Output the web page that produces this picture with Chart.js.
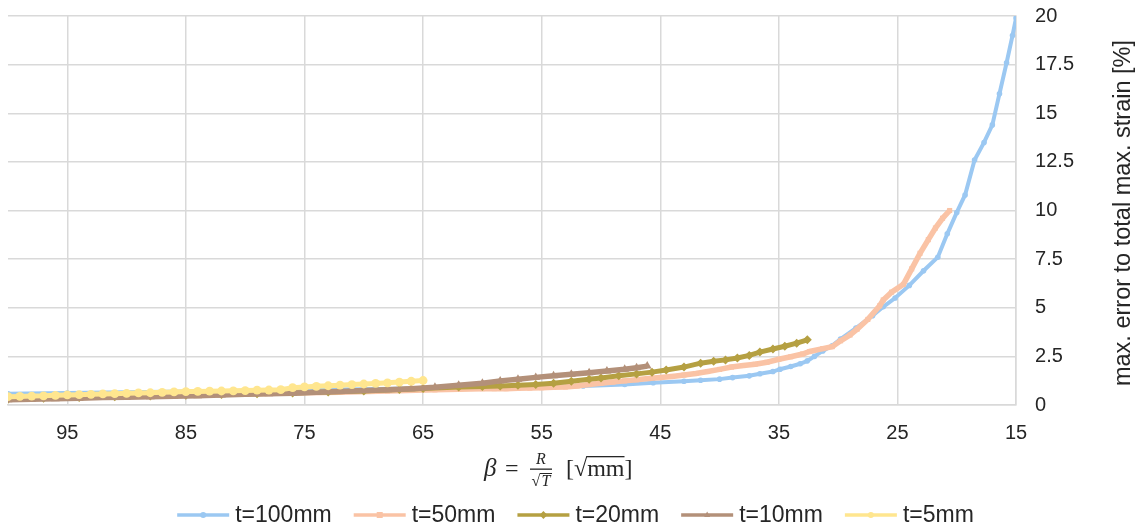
<!DOCTYPE html>
<html>
<head>
<meta charset="utf-8">
<script src="https://cdn.jsdelivr.net/npm/chart.js@4/dist/chart.umd.min.js"></script>
<style>
    html, body { margin: 0; padding: 0; background: #ffffff; }
</style>
</head>
<body>
<canvas id="strainChart" width="1143" height="527"></canvas>
<script>
// x axis tick labels (beta, axis runs right to left)
const xTicks = [95, 85, 75, 65, 55, 45, 35, 25, 15];

const seriesLabels = ["t=100mm", "t=50mm", "t=20mm", "t=10mm", "t=5mm"];
const seriesColors = ["#9BC8F2", "#FAC3A5", "#B5A042", "#B39079", "#FFE68F"];

// t=100mm
const beta100 = [100, 95, 90, 85, 80, 75, 70, 65, 60, 55, 51.5, 48, 45.6, 43, 41.6, 40, 38.9, 37.5, 36.6, 35.5, 34.9, 34, 33.2, 32.6, 32, 31.3, 30.5, 29.8, 28.5, 27.1, 26.2, 25.2, 24, 22.8, 21.6, 20.8, 20, 19.3, 18.5, 17.7, 17, 16.4, 15.8, 15.3, 15];
const err100 = [0.58, 0.62, 0.65, 0.7, 0.73, 0.78, 0.81, 0.86, 0.9, 0.95, 0.98, 1.06, 1.15, 1.22, 1.27, 1.33, 1.41, 1.5, 1.61, 1.72, 1.84, 1.98, 2.12, 2.27, 2.5, 2.78, 3.05, 3.39, 3.95, 4.59, 5.05, 5.5, 6.15, 6.9, 7.6, 8.8, 9.9, 10.8, 12.6, 13.5, 14.4, 16.0, 17.6, 19.0, 19.9];

// t=50mm
const beta50 = [100, 96, 92, 88, 84, 80, 76, 72, 68, 64, 60, 59, 58, 57, 56, 55, 54, 53, 52, 51, 50, 49, 48, 47, 46, 45, 44, 43, 42, 41, 40, 39, 38, 37, 36, 35, 34, 33, 32.4, 31.3, 30.5, 29.8, 29, 28.4, 27.5, 26.5, 26.2, 25.5, 24.5, 23.8, 23.1, 22.4, 21.8, 21.2, 20.6];
const err50 = [0.35, 0.4, 0.44, 0.5, 0.54, 0.58, 0.62, 0.66, 0.72, 0.78, 0.84, 0.84, 0.84, 0.86, 0.87, 0.89, 0.91, 0.93, 0.98, 1.05, 1.12, 1.18, 1.24, 1.3, 1.36, 1.41, 1.47, 1.54, 1.62, 1.72, 1.83, 1.95, 2.03, 2.1, 2.2, 2.35, 2.48, 2.62, 2.75, 2.9, 3.0, 3.3, 3.6, 3.9, 4.4, 5.1, 5.4, 5.8, 6.2, 7.0, 7.8, 8.5, 9.1, 9.6, 10.0];

// t=20mm
const beta20 = [100, 97, 94, 91, 88, 85, 82, 79, 76, 73, 70, 67, 65, 62, 60, 58.5, 57, 55.5, 54, 52.5, 51, 50, 48.5, 47, 45.7, 44.5, 43, 41.6, 40.5, 39.5, 38.5, 37.5, 36.6, 35.5, 34.5, 33.5, 32.6];
const err20 = [0.3, 0.35, 0.38, 0.42, 0.46, 0.5, 0.54, 0.58, 0.62, 0.67, 0.72, 0.8, 0.85, 0.92, 0.95, 0.98, 1.02, 1.06, 1.12, 1.22, 1.32, 1.39, 1.5, 1.6, 1.69, 1.8, 1.95, 2.15, 2.25, 2.32, 2.42, 2.55, 2.72, 2.88, 3.02, 3.18, 3.35];

// t=10mm
const beta10 = [100, 98, 96, 94, 92, 90, 88, 86, 84, 82, 80, 78, 76, 74, 72, 70, 68, 66, 64, 62, 60, 58.5, 57, 55.5, 54, 52.5, 51, 49.5, 48, 47, 46.1];
const err10 = [0.27, 0.3, 0.32, 0.35, 0.38, 0.4, 0.42, 0.45, 0.48, 0.51, 0.55, 0.58, 0.61, 0.66, 0.7, 0.75, 0.79, 0.84, 0.91, 1.02, 1.12, 1.24, 1.32, 1.42, 1.5, 1.58, 1.66, 1.75, 1.84, 1.92, 2.0];

// t=5mm
const beta5 = [100, 99, 98, 97, 96, 95, 94, 93, 92, 91, 90, 89, 88, 87, 86, 85, 84, 83, 82, 81, 80, 79, 78, 77, 76, 75, 74, 73, 72, 71, 70, 69, 68, 67, 66, 65];
const err5 = [0.43, 0.44, 0.46, 0.47, 0.5, 0.52, 0.53, 0.55, 0.57, 0.58, 0.6, 0.62, 0.63, 0.65, 0.67, 0.69, 0.7, 0.71, 0.72, 0.73, 0.74, 0.76, 0.77, 0.79, 0.89, 0.93, 0.96, 0.99, 1.02, 1.05, 1.08, 1.11, 1.14, 1.18, 1.22, 1.26];

const textColor = "#262626";
const gridColor = "#d9d9d9";
const sansFont = '"Liberation Sans", Arial, sans-serif';
const serifFont = '"Liberation Serif", "Times New Roman", serif';

function toPoints(xs, ys) {
    return xs.map((x, i) => ({ x: x, y: ys[i] }));
}

const markerStyles = [
    { style: "circle", radius: 2.8, width: 4 },
    { style: "rect", radius: 3.6, width: 5.5 },
    { style: "rectRot", radius: 4.5, width: 5 },
    { style: "triangle", radius: 5, width: 5.5 },
    { style: "circle", radius: 4.4, width: 5 }
];

const allData = [
    toPoints(beta100, err100),
    toPoints(beta50, err50),
    toPoints(beta20, err20),
    toPoints(beta10, err10),
    toPoints(beta5, err5)
];

const datasets = allData.map((points, i) => ({
    label: seriesLabels[i],
    data: points,
    showLine: true,
    borderColor: seriesColors[i],
    backgroundColor: seriesColors[i],
    borderWidth: markerStyles[i].width,
    pointStyle: markerStyles[i].style,
    pointRadius: markerStyles[i].radius,
    pointBorderWidth: 0,
    pointHoverRadius: markerStyles[i].radius,
    // later series drawn on top, like the original
    order: seriesLabels.length - i
}));

function drawMarker(ctx, style, x, y, r) {
    ctx.beginPath();
    if (style === "circle") {
        ctx.arc(x, y, r, 0, Math.PI * 2);
    } else if (style === "rect") {
        ctx.rect(x - r, y - r, r * 2, r * 2);
    } else if (style === "rectRot") {
        ctx.moveTo(x, y - r * 1.3);
        ctx.lineTo(x + r * 1.3, y);
        ctx.lineTo(x, y + r * 1.3);
        ctx.lineTo(x - r * 1.3, y);
        ctx.closePath();
    } else {
        ctx.moveTo(x, y - r * 1.2);
        ctx.lineTo(x + r, y + r * 0.7);
        ctx.lineTo(x - r, y + r * 0.7);
        ctx.closePath();
    }
    ctx.fill();
}

// axis titles and the legend are drawn by hand to match the original layout
const labelsPlugin = {
    id: "labelsPlugin",
    afterDraw(chart) {
        const ctx = chart.ctx;
        ctx.save();
        ctx.fillStyle = textColor;
        ctx.strokeStyle = textColor;

        // y axis title, reading bottom to top
        ctx.save();
        ctx.translate(1124, 213);
        ctx.rotate(-Math.PI / 2);
        ctx.textAlign = "center";
        ctx.textBaseline = "middle";
        ctx.font = "23.5px " + sansFont;
        ctx.fillText("max. error to total max. strain [%]", 0, 0);
        ctx.restore();

        // x axis title: beta = R / sqrt(T) [sqrt(mm)]
        const base = 476;
        ctx.textAlign = "left";
        ctx.textBaseline = "alphabetic";
        ctx.font = "italic 25px " + serifFont;
        ctx.fillText("β", 484, base);
        ctx.font = "24px " + serifFont;
        ctx.fillText("=", 505, base);

        ctx.textAlign = "center";
        ctx.font = "italic 16px " + serifFont;
        ctx.fillText("R", 541, 464);
        ctx.fillRect(530, 468.5, 22, 1.3);
        ctx.font = "16px " + serifFont;
        ctx.fillText("√", 536, 486);
        ctx.font = "italic 16px " + serifFont;
        ctx.fillText("T", 546, 486);
        ctx.fillRect(540, 473, 12, 1);

        ctx.textAlign = "left";
        ctx.font = "24px " + serifFont;
        let tx = 566;
        ctx.fillText("[", tx, base);
        tx += ctx.measureText("[").width;
        ctx.fillText("√", tx, base);
        tx += ctx.measureText("√").width;
        const mmW = ctx.measureText("mm").width;
        ctx.fillText("mm", tx, base);
        ctx.fillRect(tx - 1, base - 20, mmW + 1, 1.3);
        tx += mmW;
        ctx.fillText("]", tx, base);

        // legend
        ctx.font = "23px " + sansFont;
        ctx.textBaseline = "middle";
        const lineLen = 52;
        const gapText = 6;
        const gapItem = 22;
        const widths = seriesLabels.map(l => ctx.measureText(l).width);
        const total = widths.reduce((a, w) => a + lineLen + gapText + w, 0) + gapItem * (widths.length - 1);
        let lx = (chart.width - total) / 2 + 4;
        const ly = 515;
        seriesLabels.forEach((label, i) => {
            ctx.strokeStyle = seriesColors[i];
            ctx.fillStyle = seriesColors[i];
            ctx.lineWidth = 3.5;
            ctx.beginPath();
            ctx.moveTo(lx, ly);
            ctx.lineTo(lx + lineLen, ly);
            ctx.stroke();
            drawMarker(ctx, markerStyles[i].style, lx + lineLen / 2, ly, 3);
            ctx.fillStyle = textColor;
            ctx.fillText(label, lx + lineLen + gapText, ly + 1);
            lx += lineLen + gapText + widths[i] + gapItem;
        });

        ctx.restore();
    }
};

const ctx = document.getElementById("strainChart");

const strainChart = new Chart(ctx, {
    type: "scatter",
    data: { datasets },
    options: {
        responsive: false,
        animation: false,
        devicePixelRatio: 1,
        layout: {
            padding: { left: 8, right: 50, top: 16, bottom: 66 }
        },
        plugins: {
            legend: { display: false },
            tooltip: { enabled: false }
        },
        scales: {
            x: {
                type: "linear",
                reverse: true,
                min: 15,
                max: 100,
                afterBuildTicks: (scale) => {
                    scale.ticks = xTicks.map(v => ({ value: v }));
                },
                grid: {
                    color: gridColor,
                    lineWidth: 1.5,
                    drawTicks: false
                },
                border: { color: gridColor, width: 1.5 },
                ticks: {
                    padding: 16,
                    color: textColor,
                    maxRotation: 0,
                    autoSkip: false,
                    font: { size: 20, family: sansFont }
                }
            },
            y: {
                position: "right",
                min: 0,
                max: 20,
                afterFit: (scale) => {
                    // let the plot reach the top padding; the "20" label sits in it
                    scale.paddingTop = 0;
                },
                grid: {
                    color: gridColor,
                    lineWidth: 1.5,
                    drawTicks: false
                },
                border: { color: gridColor, width: 1.5 },
                ticks: {
                    stepSize: 2.5,
                    padding: 19,
                    color: textColor,
                    font: { size: 20, family: sansFont }
                }
            }
        }
    },
    plugins: [labelsPlugin]
});
</script>
</body>
</html>
